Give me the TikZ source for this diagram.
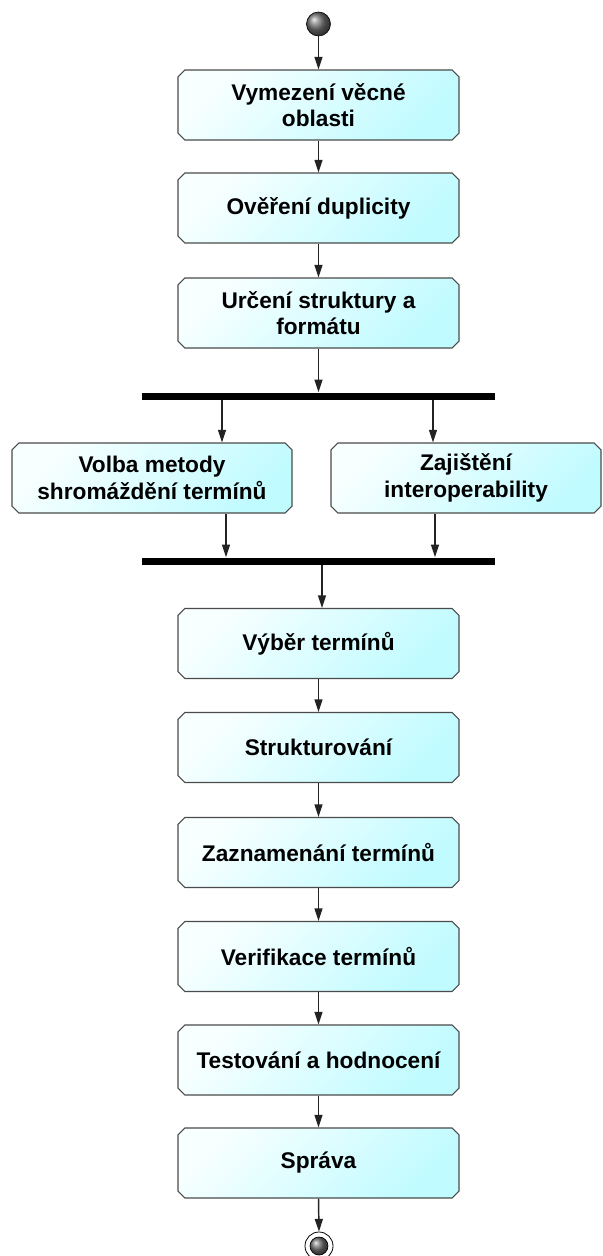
\documentclass[tikz,border=0pt]{standalone}
\usepackage{fontspec}
\setmainfont{Liberation Sans}
\usetikzlibrary{arrows.meta,shapes.misc,calc}
\definecolor{boxcyan}{RGB}{192,251,255}
\definecolor{boxlight}{RGB}{248,255,255}
\definecolor{boxedge}{RGB}{75,75,75}
\definecolor{wireclr}{RGB}{35,35,35}
\begin{document}
\begin{tikzpicture}[x=0.75pt,y=-0.75pt,
  activity/.style={chamfered rectangle, chamfered rectangle xsep=2.6pt,
    chamfered rectangle ysep=2.6pt, draw=boxedge, line width=0.8pt,
    top color=boxlight, bottom color=boxcyan, shading angle=45,
    minimum width=210.75pt, minimum height=52.5pt, inner sep=0pt,
    align=center, font=\fontsize{17}{20}\selectfont\bfseries},
  syncbar/.style={rectangle, fill=black, draw=none, minimum width=264.75pt,
    minimum height=5.25pt, inner sep=0pt},
  flow/.style={draw=wireclr, line width=1.1pt, -{Triangle[length=9.5pt,width=6pt]}},
  initial/.style={circle, minimum size=18pt, inner sep=0pt, draw=black,
    line width=0.5pt, ball color=black!55},
  ]
  \fill[white] (0,0) rectangle (603,1256);
  \useasboundingbox (0,0) rectangle (603,1256);

  % start node
  \node[initial] (start) at (318.5,24) {};

  % upper sequence
  \node[activity] (b1) at (318.5,105) {Vymezení věcné\\oblasti};
  \node[activity] (b2) at (318.5,208) {Ověření duplicity};
  \node[activity] (b3) at (318.5,313) {Určení struktury a\\formátu};

  % fork / join bars
  \node[syncbar] (bar1) at (318.5,396) {};
  \node[activity, minimum width=210pt] (lft) at (152,478) {Volba metody\\shromáždění termínů};
  \node[activity, minimum width=202.5pt] (rgt) at (466,478) {Zajištění\\interoperability};
  \node[syncbar] (bar2) at (318.5,561) {};

  % lower sequence
  \node[activity] (b4) at (318.5,643.5) {Výběr termínů};
  \node[activity] (b5) at (318.5,747.5) {Strukturování};
  \node[activity] (b6) at (318.5,852.5) {Zaznamenání termínů};
  \node[activity] (b7) at (318.5,956.5) {Verifikace termínů};
  \node[activity] (b8) at (318.5,1060) {Testování a hodnocení};
  \node[activity] (b9) at (318.5,1163) {Správa};

  % final node
  \node[circle, minimum size=21pt, inner sep=0pt, draw=black, line width=0.6pt,
        fill=white] (end) at (319,1246) {};
  \node[initial, minimum size=13.5pt] (endcore) at (end.center) {};

  % branch positions on the bars
  \coordinate (fl) at (222,0);
  \coordinate (fr) at (433,0);
  \coordinate (jl) at (226,0);
  \coordinate (jr) at (435,0);
  \coordinate (jo) at (322,0);

  % connectors
  \draw[flow] (start.south) -- (b1.north);
  \draw[flow] (b1.south) -- (b2.north);
  \draw[flow] (b2.south) -- (b3.north);
  \draw[flow] (b3.south) -- (bar1.north);
  \draw[flow] (bar1.south -| fl) -- (lft.north -| fl);
  \draw[flow] (bar1.south -| fr) -- (rgt.north -| fr);
  \draw[flow] (lft.south -| jl) -- (bar2.north -| jl);
  \draw[flow] (rgt.south -| jr) -- (bar2.north -| jr);
  \draw[flow] (bar2.south -| jo) -- (b4.north -| jo);
  \draw[flow] (b4.south) -- (b5.north);
  \draw[flow] (b5.south) -- (b6.north);
  \draw[flow] (b6.south) -- (b7.north);
  \draw[flow] (b7.south) -- (b8.north);
  \draw[flow] (b8.south) -- (b9.north);
  \draw[flow] (b9.south) -- (end.north);
\end{tikzpicture}
\end{document}
